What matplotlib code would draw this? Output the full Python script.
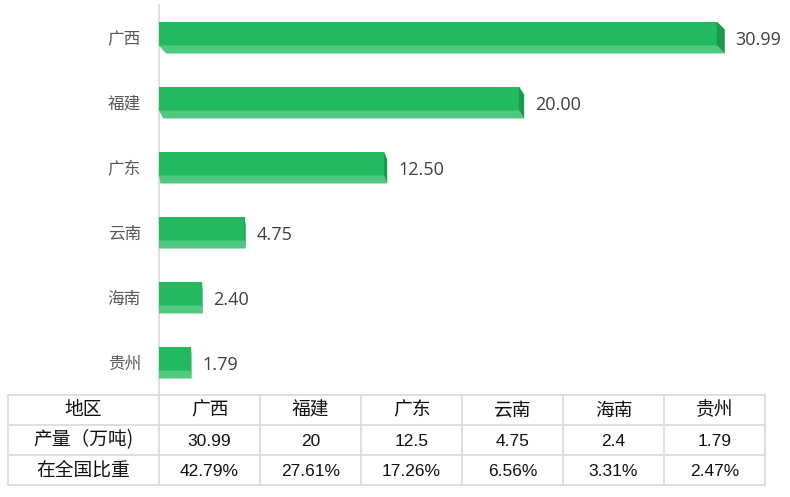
import matplotlib
matplotlib.use('Agg')
import matplotlib.pyplot as plt
from matplotlib.patches import Polygon

plt.rcParams['font.family'] = ['Noto Sans CJK SC', 'DejaVu Sans']

# data
regions = ['广西', '福建', '广东', '云南', '海南', '贵州']
output = [30.99, 20.00, 12.50, 4.75, 2.40, 1.79]
output_txt = ['30.99', '20', '12.5', '4.75', '2.4', '1.79']
share_txt = ['42.79%', '27.61%', '17.26%', '6.56%', '3.31%', '2.47%']
row_heads = ['地区', '产量（万吨)', '在全国比重']

front_c = '#21BA5E'
bottom_c = '#4FC980'
side_c = '#1B9A4E'
grid_c = '#D9D9D9'

W, H = 790, 497
fig = plt.figure(figsize=(W / 100, H / 100), dpi=100)

# bar axes (pixel box: x 159..775, y 5..395)
ax = fig.add_axes([159 / W, 1 - 395 / H, (775 - 159) / W, 390 / H])
ax.set_xlim(0, 616 / 18.0)
ax.set_ylim(5.5, -0.5)

px = 1 / 18.0           # one pixel in x data units
depth_y = 8 / 65.0
face_h = 24 / 65.0
vmax = max(output)
for i, v in enumerate(output):
    top = i - 16 / 65.0
    fb = top + face_h
    # perspective: right side grows with the value, left bevel only on upper rows
    r_off = 8 * px * v / vmax
    l_off = 7 * px * max(0.0, (2.5 - i) / 2.5)
    ax.barh(top, v, height=face_h, align='edge', color=front_c, zorder=3)
    ax.add_patch(Polygon([(0, fb), (v, fb), (v + r_off, fb + depth_y), (l_off, fb + depth_y)],
                         closed=True, facecolor=bottom_c, edgecolor='none', zorder=3))
    ax.add_patch(Polygon([(v, top), (v + r_off, top + depth_y), (v + r_off, fb + depth_y), (v, fb)],
                         closed=True, facecolor=side_c, edgecolor='none', zorder=3))
    ax.text(v + r_off + 0.6, i + 0.045, '%.2f' % v, va='center', ha='left',
            fontsize=13, color='#404040', family=['Open Sans', 'DejaVu Sans'])

ax.set_yticks(range(len(regions)))
ax.set_yticklabels(regions, fontsize=12, color='#595959')
ax.tick_params(axis='y', length=0, pad=13)
ax.set_xticks([])
for s in ['top', 'right', 'bottom']:
    ax.spines[s].set_visible(False)
ax.spines['left'].set_color(grid_c)
ax.spines['left'].set_linewidth(1.2)
ax.patch.set_alpha(0)

# table (pixel box: x 8..765, y 395..485)
tx = fig.add_axes([8 / W, 1 - 485 / H, (765 - 8) / W, 90 / H])
tx.set_xlim(0, 757)
tx.set_ylim(90, 0)
tx.axis('off')
col_edges = [0, 151] + [151 + 101 * (k + 1) for k in range(len(regions))]
row_edges = [0, 30, 60, 90]
for xe in col_edges:
    tx.plot([xe, xe], [0, 90], color=grid_c, lw=1.2, clip_on=False)
for ye in row_edges:
    tx.plot([0, 757], [ye, ye], color=grid_c, lw=1.2, clip_on=False)

rows = [regions, output_txt, share_txt]
for r in range(3):
    yc = (row_edges[r] + row_edges[r + 1]) / 2
    tx.text(col_edges[0] + 75.5, yc, row_heads[r], ha='center', va='center',
            fontsize=13.5, color='#111111')
    for c, t in enumerate(rows[r]):
        xc = (col_edges[c + 1] + col_edges[c + 2]) / 2
        if r == 0:
            tx.text(xc, yc, t, ha='center', va='center', fontsize=13.5, color='#111111')
        else:
            tx.text(xc, yc + 1, t, ha='center', va='center', fontsize=12.5,
                    color='#111111', family=['Liberation Sans', 'DejaVu Sans'])

fig.savefig('out.png', dpi=100)
